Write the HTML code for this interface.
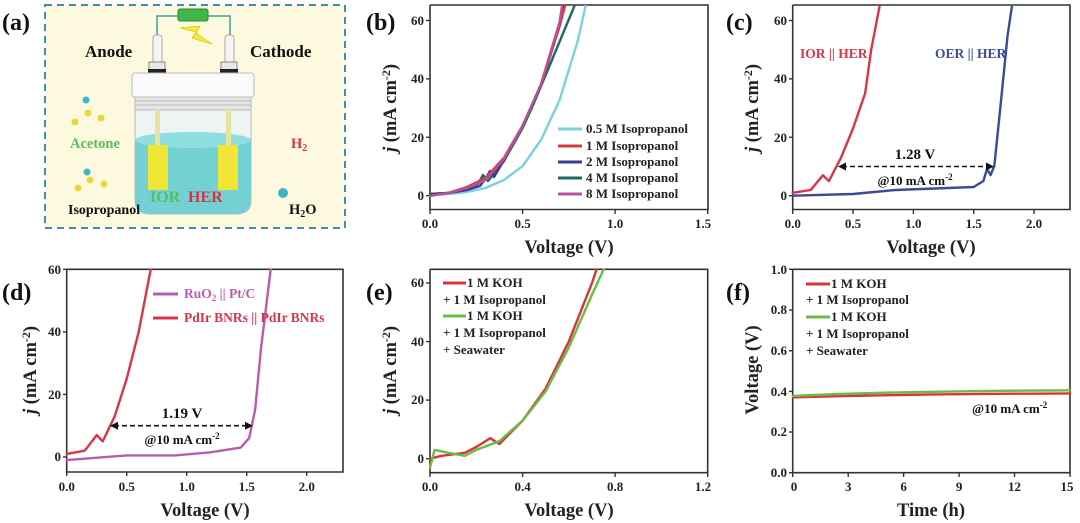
<!DOCTYPE html>
<html><head><meta charset="utf-8"><style>
html,body{margin:0;padding:0;background:#fff;}
svg{display:block;font-family:"Liberation Serif",serif;font-weight:bold;}
.t{font-size:13px;fill:#222;}
.at{font-size:18.5px;fill:#222;}
.pl{font-size:24px;fill:#111;}
.lg{font-size:13px;fill:#222;}
.ax{fill:none;stroke:#333;stroke-width:1.6;}
.tk{stroke:#333;stroke-width:1.4;}
.c{fill:none;stroke-width:2.4;stroke-linejoin:round;stroke-linecap:round;}
</style></head><body>
<svg width="1080" height="523" viewBox="0 0 1080 523" xmlns="http://www.w3.org/2000/svg">
<!-- Panel a -->
<rect x="45" y="5" width="300" height="223" fill="#fdf9df" stroke="#3d8db5" stroke-width="2" stroke-dasharray="7,5"/>
<text class="pl" x="2" y="30">(a)</text>
<polyline points="157,35 157,16 230,16 230,35" fill="none" stroke="#3aa39a" stroke-width="1.5"/>
<rect x="178" y="9" width="30" height="12" rx="2" fill="#3fb54a" stroke="#2a8a33"/>
<polygon points="180,28 200,26 196,33 212,44 192,38 196,32" fill="#f3ea3a" stroke="#d8c800" stroke-width="0.7"/>
<rect x="153" y="35" width="9" height="28" rx="3" fill="#f4f4f4" stroke="#aaa"/>
<rect x="225" y="35" width="9" height="28" rx="3" fill="#f4f4f4" stroke="#aaa"/>
<rect x="149" y="62" width="16" height="10" fill="#e8e8e8" stroke="#888"/>
<rect x="221" y="62" width="16" height="10" fill="#e8e8e8" stroke="#888"/>
<rect x="148" y="69" width="18" height="4" fill="#222"/>
<rect x="220" y="69" width="18" height="4" fill="#222"/>
<text x="85" y="57" font-size="17" fill="#111">Anode</text>
<text x="250" y="57" font-size="17" fill="#111">Cathode</text>
<path d="M135,110 L135,200 Q135,214 150,214 L236,214 Q251,214 251,200 L251,110 Z" fill="#eef3f3" stroke="#bbb"/>
<path d="M135,140 Q193,128 251,140 L251,200 Q251,214 236,214 L150,214 Q135,214 135,200 Z" fill="#73d1d4"/>
<ellipse cx="193" cy="140" rx="58" ry="8" fill="#8fdfe0"/>
<rect x="132" y="73" width="122" height="24" rx="3" fill="#fafafa" stroke="#bbb"/>
<rect x="135" y="97" width="116" height="13" fill="#e6e6e6" stroke="#bbb"/>
<line x1="135" y1="101" x2="251" y2="101" stroke="#bbb"/><line x1="135" y1="105" x2="251" y2="105" stroke="#bbb"/>
<rect x="155" y="110" width="5" height="60" fill="#e8e4a0"/>
<rect x="226" y="110" width="5" height="60" fill="#e8e4a0"/>
<rect x="148" y="145" width="20" height="45" fill="#f1e635"/>
<rect x="218" y="145" width="20" height="45" fill="#f1e635"/>
<text x="70" y="148" font-size="14.5" fill="#5cbd5c">Acetone</text>
<text x="68" y="214" font-size="14" fill="#111">Isopropanol</text>
<text x="150" y="202" font-size="16" fill="#4fc16a">IOR</text>
<text x="188" y="202" font-size="16" fill="#d1334a">HER</text>
<text x="291" y="148" font-size="14.5" fill="#d1334a">H<tspan font-size="10" dy="3">2</tspan></text>
<text x="289" y="214" font-size="14.5" fill="#111">H<tspan font-size="10" dy="3">2</tspan><tspan dy="-3">O</tspan></text>
<circle cx="283" cy="193" r="5" fill="#3ab7c8"/>
<circle cx="86" cy="100" r="3.5" fill="#3ab7c8"/>
<g fill="#e8d83a"><circle cx="75" cy="122" r="3.5"/><circle cx="88" cy="113" r="3.5"/><circle cx="101" cy="118" r="3.5"/><circle cx="78" cy="188" r="3.5"/><circle cx="90" cy="180" r="3.5"/><circle cx="104" cy="184" r="3.5"/></g>
<circle cx="87" cy="172" r="3.5" fill="#3ab7c8"/>

<!-- Panel b -->
<text class="pl" x="366" y="30">(b)</text>
<g>
<polyline class="ax" points="430,5 430,209.5 708,209.5 708,5 430,5"/>
<g class="tk"><line x1="426" y1="20.5" x2="430" y2="20.5"/><line x1="426" y1="78.9" x2="430" y2="78.9"/><line x1="426" y1="137.3" x2="430" y2="137.3"/><line x1="426" y1="195.7" x2="430" y2="195.7"/>
<line x1="430" y1="209.5" x2="430" y2="214"/><line x1="522.6" y1="209.5" x2="522.6" y2="214"/><line x1="615.1" y1="209.5" x2="615.1" y2="214"/><line x1="707.7" y1="209.5" x2="707.7" y2="214"/></g>
<g class="t" text-anchor="end"><text x="424" y="25">60</text><text x="424" y="83">40</text><text x="424" y="142">20</text><text x="424" y="200">0</text></g>
<g class="t" text-anchor="middle"><text x="430" y="228">0.0</text><text x="522.6" y="228">0.5</text><text x="615.1" y="228">1.0</text><text x="703" y="228">1.5</text></g>
<text class="at" x="569" y="253" text-anchor="middle">Voltage (V)</text>
<text class="at" transform="translate(396,108) rotate(-90)" text-anchor="middle"><tspan font-style="italic">j</tspan> (mA cm<tspan font-size="12" dy="-6">-2</tspan><tspan dy="6">)</tspan></text>
<polyline class="c" stroke="#79d3dc" points="430,195 448.5,194 467,192 485.5,188 504,180 522.6,166 541,140 559.6,100 578,40 585.5,6"/>
<polyline class="c" stroke="#1c6a66" points="430,194 448.5,193 467,190 478,184 483,175 488,181 504,161 522.6,128 531.8,108 550.3,64 574.4,6"/>
<polyline class="c" stroke="#3a3d92" points="430,194 448.5,193 467,190 480,186 486,178 490,171 494,177 504,160 522.6,126 541,85 559.6,26 563,6"/>
<polyline class="c" stroke="#d43c3c" points="430,195.7 448.5,192.8 467,187 485.5,178 504,157.7 522.6,125.6 541,84.7 559.6,26.3 565,6"/>
<polyline class="c" stroke="#b9509a" points="430,196 448.5,193 467,188 485.5,180 504,159 522.6,126 541,84 559.6,22 562,6"/>
<g class="lg"><line x1="558" y1="129" x2="582" y2="129" stroke="#79d3dc" stroke-width="3"/><text x="586" y="133">0.5 M Isopropanol</text>
<line x1="558" y1="146" x2="582" y2="146" stroke="#d43c3c" stroke-width="3"/><text x="586" y="150">1 M Isopropanol</text>
<line x1="558" y1="162" x2="582" y2="162" stroke="#3a3d92" stroke-width="3"/><text x="586" y="166">2 M Isopropanol</text>
<line x1="558" y1="178" x2="582" y2="178" stroke="#1c6a66" stroke-width="3"/><text x="586" y="182">4 M Isopropanol</text>
<line x1="558" y1="194" x2="582" y2="194" stroke="#b9509a" stroke-width="3"/><text x="586" y="198">8 M Isopropanol</text></g>
</g>

<!-- Panel c -->
<text class="pl" x="726" y="30">(c)</text>
<g>
<polyline class="ax" points="792.7,5 792.7,209.5 1070,209.5 1070,5 792.7,5"/>
<g class="tk"><line x1="789" y1="20.5" x2="792.7" y2="20.5"/><line x1="789" y1="78.9" x2="792.7" y2="78.9"/><line x1="789" y1="137.3" x2="792.7" y2="137.3"/><line x1="789" y1="195.7" x2="792.7" y2="195.7"/>
<line x1="792.7" y1="209.5" x2="792.7" y2="214"/><line x1="853" y1="209.5" x2="853" y2="214"/><line x1="913.4" y1="209.5" x2="913.4" y2="214"/><line x1="973.7" y1="209.5" x2="973.7" y2="214"/><line x1="1034" y1="209.5" x2="1034" y2="214"/></g>
<g class="t" text-anchor="end"><text x="787" y="25">60</text><text x="787" y="83">40</text><text x="787" y="142">20</text><text x="787" y="200">0</text></g>
<g class="t" text-anchor="middle"><text x="792.7" y="228">0.0</text><text x="853" y="228">0.5</text><text x="913.4" y="228">1.0</text><text x="973.7" y="228">1.5</text><text x="1034" y="228">2.0</text></g>
<text class="at" x="931" y="253" text-anchor="middle">Voltage (V)</text>
<text class="at" transform="translate(758,108) rotate(-90)" text-anchor="middle"><tspan font-style="italic">j</tspan> (mA cm<tspan font-size="12" dy="-6">-2</tspan><tspan dy="6">)</tspan></text>
<polyline class="c" stroke="#3c4b94" points="792.7,195.7 853,194 895.3,190 973.7,187 983.4,181 987,169 990.6,175 994.3,166 1000.3,108 1007.5,36 1012,6"/>
<polyline class="c" stroke="#d6364a" points="792.7,192.8 810.8,189.9 822.9,175.3 828.9,181.1 841,157.7 853,128.5 865.1,93.5 871.2,49.7 879.6,6"/>
<text x="800" y="58" font-size="13.5" fill="#d6364a">IOR || HER</text>
<text x="935" y="58" font-size="13.5" fill="#3c4b94">OER || HER</text>
<line x1="842" y1="166.5" x2="990" y2="166.5" stroke="#111" stroke-width="1.6" stroke-dasharray="5,3"/>
<polygon points="838,166.5 846,162.5 846,170.5" fill="#111"/><polygon points="994,166.5 986,162.5 986,170.5" fill="#111"/>
<text x="915" y="159" font-size="15" text-anchor="middle" fill="#111">1.28 V</text>
<text x="915" y="185" font-size="13" text-anchor="middle" fill="#111">@10 mA cm<tspan font-size="9" dy="-5">-2</tspan></text>
</g>

<!-- Panel d -->
<text class="pl" x="2" y="300">(d)</text>
<g>
<polyline class="ax" points="66.7,269.3 66.7,472 343,472 343,269.3 66.7,269.3"/>
<g class="tk"><line x1="63" y1="269.3" x2="66.7" y2="269.3"/><line x1="63" y1="331.9" x2="66.7" y2="331.9"/><line x1="63" y1="394.4" x2="66.7" y2="394.4"/><line x1="63" y1="457" x2="66.7" y2="457"/>
<line x1="66.7" y1="472" x2="66.7" y2="476"/><line x1="126.7" y1="472" x2="126.7" y2="476"/><line x1="186.7" y1="472" x2="186.7" y2="476"/><line x1="246.7" y1="472" x2="246.7" y2="476"/><line x1="306.7" y1="472" x2="306.7" y2="476"/></g>
<g class="t" text-anchor="end"><text x="61" y="274">60</text><text x="61" y="336">40</text><text x="61" y="399">20</text><text x="61" y="461">0</text></g>
<g class="t" text-anchor="middle"><text x="66.7" y="491">0.0</text><text x="126.7" y="491">0.5</text><text x="186.7" y="491">1.0</text><text x="246.7" y="491">1.5</text><text x="306.7" y="491">2.0</text></g>
<text class="at" x="205" y="516" text-anchor="middle">Voltage (V)</text>
<text class="at" transform="translate(36,370) rotate(-90)" text-anchor="middle"><tspan font-style="italic">j</tspan> (mA cm<tspan font-size="12" dy="-6">-2</tspan><tspan dy="6">)</tspan></text>
<polyline class="c" stroke="#b95cb0" points="66.7,460.1 126.7,455.4 174.7,455.4 210.7,452.3 240.7,447.6 249.1,438.2 255.1,410 261.1,347.4 270.7,269.5"/>
<polyline class="c" stroke="#d6364a" points="66.7,453.9 84.7,450.7 96.7,435.1 102.7,441.4 114.7,416.3 126.7,378.8 138.7,331.8 150.7,269.5"/>
<line x1="153" y1="294" x2="178" y2="294" stroke="#b95cb0" stroke-width="3"/><text x="184" y="298" font-size="13.5" fill="#b95cb0">RuO<tspan font-size="9" dy="3">2</tspan><tspan dy="-3"> || Pt/C</tspan></text>
<line x1="153" y1="318" x2="178" y2="318" stroke="#d6364a" stroke-width="3"/><text x="184" y="322" font-size="13.5" fill="#d6364a">PdIr BNRs || PdIr BNRs</text>
<line x1="114" y1="425.7" x2="249" y2="425.7" stroke="#111" stroke-width="1.6" stroke-dasharray="5,3"/>
<polygon points="110,425.7 118,421.7 118,429.7" fill="#111"/><polygon points="253,425.7 245,421.7 245,429.7" fill="#111"/>
<text x="182" y="418" font-size="15" text-anchor="middle" fill="#111">1.19 V</text>
<text x="182" y="444" font-size="13" text-anchor="middle" fill="#111">@10 mA cm<tspan font-size="9" dy="-5">-2</tspan></text>
</g>

<!-- Panel e -->
<text class="pl" x="366" y="300">(e)</text>
<g>
<polyline class="ax" points="430,269.3 430,472.7 707.7,472.7 707.7,269.3 430,269.3"/>
<g class="tk"><line x1="426" y1="283" x2="430" y2="283"/><line x1="426" y1="341.6" x2="430" y2="341.6"/><line x1="426" y1="400.1" x2="430" y2="400.1"/><line x1="426" y1="458.7" x2="430" y2="458.7"/>
<line x1="430" y1="472.7" x2="430" y2="477"/><line x1="522.6" y1="472.7" x2="522.6" y2="477"/><line x1="615.1" y1="472.7" x2="615.1" y2="477"/><line x1="707.7" y1="472.7" x2="707.7" y2="477"/></g>
<g class="t" text-anchor="end"><text x="424" y="287">60</text><text x="424" y="346">40</text><text x="424" y="404">20</text><text x="424" y="463">0</text></g>
<g class="t" text-anchor="middle"><text x="430" y="491">0.0</text><text x="522.6" y="491">0.4</text><text x="615.1" y="491">0.8</text><text x="703" y="491">1.2</text></g>
<text class="at" x="569" y="516" text-anchor="middle">Voltage (V)</text>
<text class="at" transform="translate(396,370) rotate(-90)" text-anchor="middle"><tspan font-style="italic">j</tspan> (mA cm<tspan font-size="12" dy="-6">-2</tspan><tspan dy="6">)</tspan></text>
<polyline class="c" stroke="#d6363a" points="430,458.7 441.6,455.8 464.7,452.8 476.3,447 490.2,438.2 499.4,444 522.6,420.6 545.7,388.4 568.8,341.5 592,282.9 596.6,269.5"/>
<polyline class="c" stroke="#6cbb45" points="430,467.5 434.6,449.9 448.5,452.8 464.7,455.8 476.3,449.9 499.4,441.1 522.6,420.6 545.7,391.3 568.8,347.4 592,294.6 603.6,269.5"/>
<g class="lg"><line x1="443" y1="283" x2="466" y2="283" stroke="#d6363a" stroke-width="3"/><text x="467" y="287">1 M KOH</text>
<text x="443" y="304">+ 1 M Isopropanol</text>
<line x1="443" y1="316" x2="466" y2="316" stroke="#6cbb45" stroke-width="3"/><text x="467" y="320">1 M KOH</text>
<text x="443" y="337">+ 1 M Isopropanol</text>
<text x="443" y="354">+ Seawater</text></g>
</g>

<!-- Panel f -->
<text class="pl" x="726" y="300">(f)</text>
<g>
<polyline class="ax" points="792.7,269.3 792.7,472.7 1070,472.7 1070,269.3 792.7,269.3"/>
<g class="tk"><line x1="789" y1="269.3" x2="792.7" y2="269.3"/><line x1="789" y1="310" x2="792.7" y2="310"/><line x1="789" y1="350.7" x2="792.7" y2="350.7"/><line x1="789" y1="391.4" x2="792.7" y2="391.4"/><line x1="789" y1="432" x2="792.7" y2="432"/><line x1="789" y1="472.7" x2="792.7" y2="472.7"/>
<line x1="792.7" y1="472.7" x2="792.7" y2="477"/><line x1="848.2" y1="472.7" x2="848.2" y2="477"/><line x1="903.6" y1="472.7" x2="903.6" y2="477"/><line x1="959.1" y1="472.7" x2="959.1" y2="477"/><line x1="1014.5" y1="472.7" x2="1014.5" y2="477"/><line x1="1070" y1="472.7" x2="1070" y2="477"/></g>
<g class="t" text-anchor="end"><text x="787" y="274">1.0</text><text x="787" y="314">0.8</text><text x="787" y="355">0.6</text><text x="787" y="396">0.4</text><text x="787" y="436">0.2</text><text x="787" y="477">0.0</text></g>
<g class="t" text-anchor="middle"><text x="794" y="491">0</text><text x="848.2" y="491">3</text><text x="903.6" y="491">6</text><text x="959.1" y="491">9</text><text x="1014.5" y="491">12</text><text x="1067" y="491">15</text></g>
<text class="at" x="931" y="516" text-anchor="middle">Time (h)</text>
<text class="at" transform="translate(758,370) rotate(-90)" text-anchor="middle">Voltage (V)</text>
<path class="c" stroke="#d6363a" d="M793,397.4 C850,395.5 950,394 1070,393.4"/>
<path class="c" stroke="#6cbb45" d="M793,396 C850,393 950,391 1070,390.3"/>
<text x="972" y="413" font-size="13" fill="#111">@10 mA cm<tspan font-size="9" dy="-5">-2</tspan></text>
<g class="lg"><line x1="806" y1="284" x2="830" y2="284" stroke="#d6363a" stroke-width="3"/><text x="831" y="288">1 M KOH</text>
<text x="806" y="304">+ 1 M Isopropanol</text>
<line x1="806" y1="317" x2="830" y2="317" stroke="#6cbb45" stroke-width="3"/><text x="831" y="321">1 M KOH</text>
<text x="806" y="338">+ 1 M Isopropanol</text>
<text x="806" y="355">+ Seawater</text></g>
</g>
</svg>
</body></html>
